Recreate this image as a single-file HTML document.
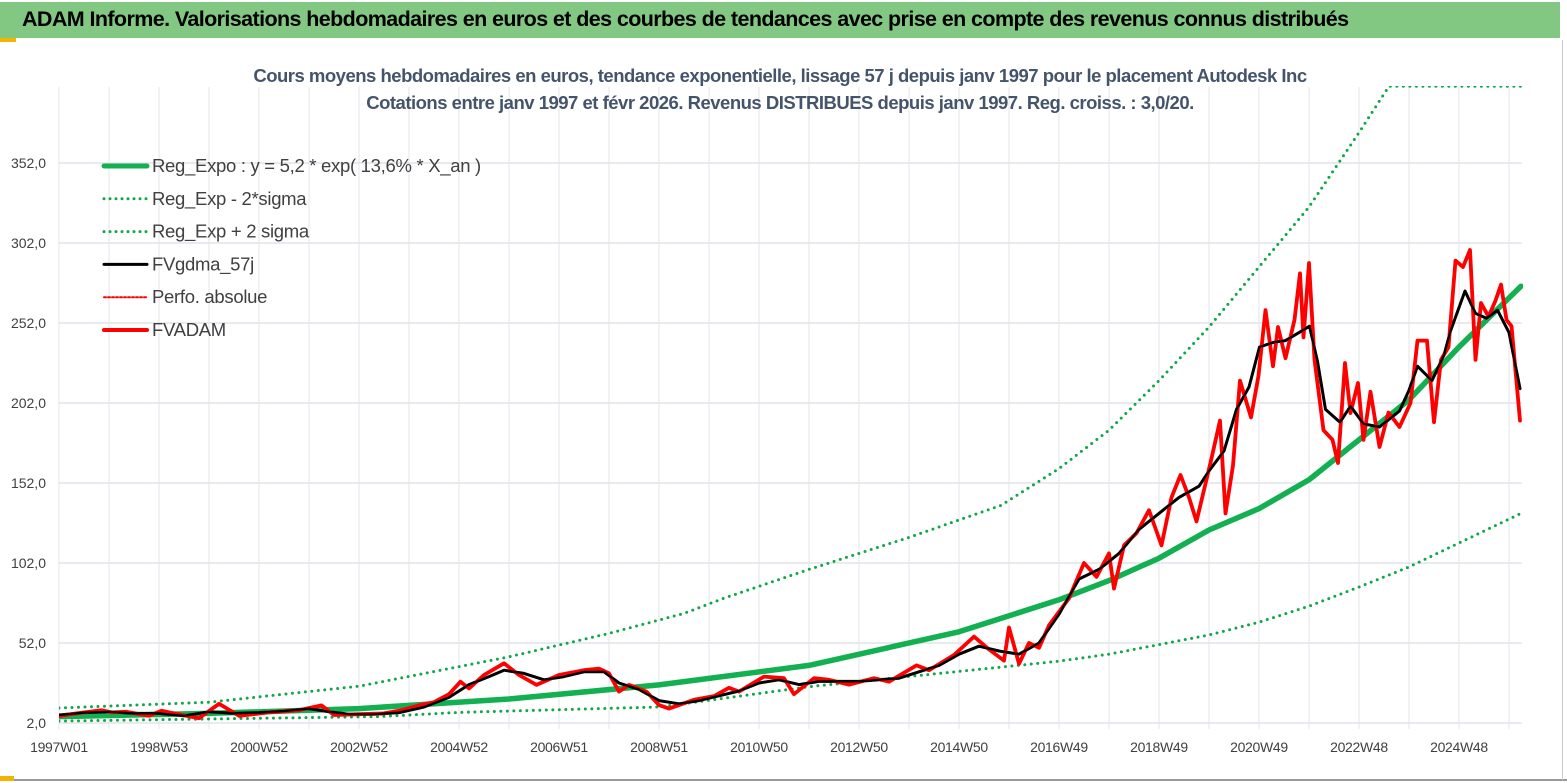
<!DOCTYPE html>
<html><head><meta charset="utf-8">
<style>
html,body{margin:0;padding:0;background:#fff;}
body{width:1567px;height:783px;position:relative;overflow:hidden;font-family:"Liberation Sans",sans-serif;}
#bar{position:absolute;left:0;top:2px;width:1560px;height:36px;background:#82c882;}
#bar span{position:absolute;left:22px;top:5px;font-size:21.5px;font-weight:bold;color:#000;letter-spacing:-0.6px;white-space:nowrap;}
</style></head>
<body>
<div id="bar"><span>ADAM Informe. Valorisations hebdomadaires en euros et des courbes de tendances avec prise en compte des revenus connus distribués</span></div>
<div style="position:absolute;left:0;top:38px;width:16px;height:4px;background:#f2b400"></div>
<div style="position:absolute;left:0;top:776px;width:14px;height:5px;background:#f2b400"></div>
<div style="position:absolute;left:14px;top:779px;width:1553px;height:2px;background:#999"></div>
<div style="position:absolute;left:1562px;top:40px;width:1px;height:740px;background:#ccc"></div>
<svg id="chart" width="1567" height="783" style="position:absolute;left:0;top:0">
<defs><clipPath id="clip"><rect x="59" y="86" width="1464" height="640"/></clipPath></defs>
<g id="grid"></g>
<text x="780" y="82" text-anchor="middle" font-size="18.5" font-weight="bold" fill="#44546a" letter-spacing="-0.5">Cours moyens hebdomadaires en euros, tendance exponentielle, lissage 57 j depuis janv 1997 pour le placement Autodesk Inc</text>
<text x="780" y="109" text-anchor="middle" font-size="18.5" font-weight="bold" fill="#44546a" letter-spacing="-0.5">Cotations entre janv 1997 et févr 2026. Revenus DISTRIBUES depuis janv 1997. Reg. croiss. : 3,0/20.</text>
<g id="series" clip-path="url(#clip)"></g>
<g id="axes"></g>
<g id="legend"></g>
</svg>
<script>
const yTicks=[2,52,102,152,202,252,302,352];
const yTickLabels=["2,0","52,0","102,0","152,0","202,0","252,0","302,0","352,0"];
const xTickLabels=["1997W01","1998W53","2000W52","2002W52","2004W52","2006W51","2008W51","2010W50","2012W50","2014W50","2016W49","2018W49","2020W49","2022W48","2024W48"];
const trendYears=[1997,2000,2003,2004,2006,2009,2012,2015,2017,2018,2019,2020,2021,2022,2023,2024,2025,2026.24];
const trendValues=[6,8,11,13,17,25.8,38,59,79,91,105,122.6,136,154,179,204,237,275];
const upperYears=[1997,2000,2003,2006,2008,2009.5,2010.3,2012,2014,2015.84,2017,2018,2019,2020,2021,2022,2023,2023.6,2026.24];
const upperValues=[11.4,15,25,43.4,58,70.5,80,98,118,138,161,185,216,249.5,287,324.5,371,400,400];
const lowerYears=[1997,2000,2003.4,2005,2009,2012,2017,2018,2019,2020,2021,2022,2023,2024,2025,2026.24];
const lowerValues=[3.2,4.5,6,8.6,12,24.7,40.6,45,51,57,65,75,87,99.5,114.5,133];
const redYears=[1997,1997.35,1997.85,1998.05,1998.35,1998.8,1999.05,1999.2,1999.8,2000.2,2000.6,2001.2,2001.8,2002.25,2002.5,2003,2003.5,2003.85,2004.2,2004.5,2004.8,2005.03,2005.2,2005.5,2005.9,2006.2,2006.55,2007,2007.5,2007.8,2008,2008.2,2008.4,2008.75,2009,2009.2,2009.7,2010.1,2010.4,2010.6,2011.1,2011.5,2011.7,2012.1,2012.4,2012.8,2013.3,2013.6,2014.15,2014.4,2014.9,2015.3,2015.6,2015.9,2016,2016.2,2016.4,2016.6,2016.8,2017.2,2017.5,2017.75,2018,2018.1,2018.3,2018.55,2018.8,2019.05,2019.25,2019.43,2019.6,2019.75,
2020.04,2020.22,2020.33,2020.48,2020.62,2020.84,2020.99,2021.13,2021.28,2021.38,2021.53,2021.71,2021.82,2021.89,2022.0,2022.11,2022.29,2022.47,2022.58,2022.72,2022.83,2022.98,2023.09,2023.23,2023.41,2023.59,2023.81,2024.03,2024.17,2024.36,2024.5,2024.64,2024.79,2024.93,2025.08,2025.22,2025.33,2025.44,2025.59,2025.73,2025.84,2025.95,2026.05,2026.22];
const redValues=[6.4,8,10,8.6,9,6.5,9.7,8.6,5,14,6.5,8.6,10,13,7,7.5,8,10,13,15,20,27.8,23.6,32,39.3,32,25.8,32,35,36,33,21.6,25.8,21.6,13.2,11,16.5,18.8,24,21.6,31,30,20,30,29,26,30,27.8,38,35,44.5,56,48,41,61.7,39,52,49,63,80,102,93.4,108,86,113,120.7,135,113,143,157,143,128,
166,191,133,163,216,193,219,260,225,249.5,230,254,283,243,289.5,229,185,179,164.5,227,195.7,214.5,179,209,174.5,196,187,202,241,241,190,229,237,291,287,297.6,229,264.5,256,266,276,254,250,191];
const blackYears=[1997,1997.5,1998,1998.5,1999,1999.5,2000,2000.5,2001,2001.5,2002,2002.4,2002.8,2003.3,2003.8,2004.3,2004.8,2005.2,2005.6,2005.9,2006.3,2006.7,2007.1,2007.5,2007.9,2008.2,2008.6,2009,2009.4,2009.8,2010.2,2010.6,2011,2011.4,2011.8,2012.2,2012.6,2013,2013.4,2013.8,2014.2,2014.6,2015,2015.4,2015.8,2016.2,2016.6,2017,2017.4,2017.8,2018.2,2018.6,2019,2019.4,2019.8,2020.01,2020.3,2020.55,2020.8,2021.01,2021.3,2021.53,2021.8,2022.01,2022.17,2022.33,2022.62,2022.83,2023.09,2023.41,2023.81,2024.0,2024.17,2024.46,2024.7,2024.83,2025.12,2025.33,2025.55,2025.77,2026.0,2026.22];
const blackValues=[7,8.5,9,8,8,6.5,9,8,8.5,9.5,11,9,7.5,7.5,8.5,12,18,26,31,35,33,29,31,34,34,27,23,16,14,16,19,22,27,29,26,28,28,28,29,30,34,38,45,50,47,45,52,70,92,98,108,123,133,143,150,160,172,198,212,237,240,241,246,250,228,198,190,200,189,187,197,210,225,216,232,247,272,258,255,260,246,211];

const svgNS="http://www.w3.org/2000/svg";
const X0=59,PX_PER_YEAR=50,Y0=723,PX_PER_UNIT=1.6;
function xs(year){return X0+(year-1997)*PX_PER_YEAR;}
function ys(v){return Y0-(v-2)*PX_PER_UNIT;}
function mk(tag,attrs,parent){const e=document.createElementNS(svgNS,tag);for(const k in attrs)e.setAttribute(k,attrs[k]);parent.appendChild(e);return e;}

const grid=document.getElementById('grid');
for(let i=0;i<30;i++){
  const x=xs(1997+i);
  const l=mk('line',{x1:x,x2:x,y1:87,y2:729,stroke:'#e1e4ea','stroke-width':1},grid);
  
  
}
yTicks.forEach(v=>{
  const l=mk('line',{x1:X0,x2:1522,y1:ys(v),y2:ys(v),stroke:'#e1e4ea','stroke-width':1.5},grid);
  
  
});

const axes=document.getElementById('axes');
yTicks.forEach((v,i)=>{
  const t=mk('text',{x:46,y:ys(v)+5,'text-anchor':'end','font-size':14,fill:'#404040'},axes);
  t.textContent=yTickLabels[i];
  
  
});
xTickLabels.forEach((s,i)=>{
  const t=mk('text',{x:xs(1997+2*i),y:752,'text-anchor':'middle','font-size':14,fill:'#404040','letter-spacing':'-0.3'},axes);
  t.textContent=s;
  
  
});

const series=document.getElementById('series');
function path(yrs,vals,attrs,name){
  const d=yrs.map((y,i)=>(i?'L':'M')+xs(y).toFixed(1)+','+ys(vals[i]).toFixed(1)).join('');
  const p=mk('path',Object.assign({d:d,fill:'none','stroke-linejoin':'round','stroke-linecap':'round'},attrs),series);
  
  
  return p;
}
path(upperYears,upperValues,{stroke:'#12a64a','stroke-width':3,'stroke-dasharray':'0 6.5'},'upper-band-line');
path(lowerYears,lowerValues,{stroke:'#12a64a','stroke-width':3,'stroke-dasharray':'0 6.5'},'lower-band-line');
path(trendYears,trendValues,{stroke:'#12b050','stroke-width':5.5},'trend-line');
path(blackYears,blackValues,{stroke:'#000','stroke-width':3},'fvgdma-line-under');
path(redYears,redValues,{stroke:'#ff0000','stroke-width':3.8},'fvadam-line');
path(blackYears,blackValues,{stroke:'#000','stroke-width':2.2},'fvgdma-line');

const legend=document.getElementById('legend');
const legendLabels=["Reg_Expo : y = 5,2 * exp( 13,6% *  X_an )","Reg_Exp - 2*sigma","Reg_Exp + 2 sigma","FVgdma_57j","Perfo. absolue","FVADAM"];
const legendStyles=[{stroke:'#12b050','stroke-width':5},{stroke:'#12a64a','stroke-width':3,'stroke-dasharray':'0 6'},{stroke:'#12a64a','stroke-width':3,'stroke-dasharray':'0 6'},{stroke:'#000','stroke-width':3},{stroke:'#ff0000','stroke-width':2,'stroke-dasharray':'2 2'},{stroke:'#ff0000','stroke-width':4}];
legendLabels.forEach((s,i)=>{
  const y=166+i*32.8;
  const l=mk('line',Object.assign({x1:104,x2:147,y1:y,y2:y,'stroke-linecap':'round'},legendStyles[i]),legend);
  
  
  const t=mk('text',{x:152,y:y+6,'font-size':18.5,fill:'#404040','letter-spacing':'-0.3'},legend);
  t.textContent=s;
  
  
});
</script>
</body></html>
